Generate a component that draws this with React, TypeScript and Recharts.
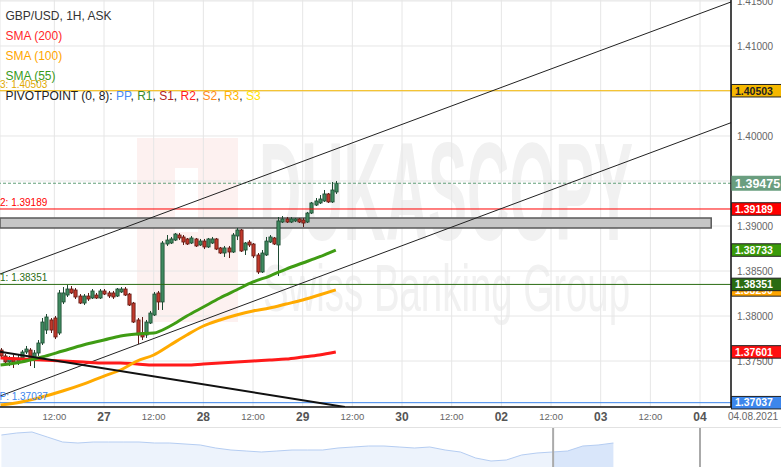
import React from 'react'
import {
  ComposedChart,
  Bar,
  Line,
  XAxis,
  YAxis,
  CartesianGrid,
  ReferenceLine,
  ReferenceArea,
  AreaChart,
  Area,
} from 'recharts'

const FONT = '"Liberation Sans", Arial, sans-serif'

// hourly GBP/USD candles, first one is 25 Jul 23:00 (hour -25 relative to 27 Jul 00:00)
const FIRST_HOUR = -25

const opens = [
  1.37622, 1.37556, 1.37489, 1.37533, 1.37489, 1.37533, 1.376, 1.37622, 1.37511, 1.37589,
  1.377, 1.37844, 1.37956, 1.37978, 1.37811, 1.38156, 1.38233, 1.383, 1.38289, 1.38222,
  1.38144, 1.38222, 1.382, 1.38233, 1.382, 1.38278, 1.38256, 1.38256, 1.38222, 1.38267,
  1.383, 1.38244, 1.38144, 1.37956, 1.37811, 1.37789, 1.37922, 1.38011, 1.38256, 1.38156,
  1.388, 1.38811, 1.38844, 1.389, 1.38878, 1.38856, 1.38811, 1.38856, 1.38789, 1.38833,
  1.38767, 1.38811, 1.38856, 1.38756, 1.387, 1.38756, 1.38711, 1.38889, 1.38956, 1.38733,
  1.38822, 1.388, 1.38678, 1.38489, 1.38678, 1.38822, 1.38867, 1.38789, 1.39044, 1.39078,
  1.39044, 1.39056, 1.39078, 1.39067, 1.39044, 1.39144, 1.39233, 1.39256, 1.39278, 1.39356,
  1.39267, 1.39378,
]
const highs = [
  1.37644, 1.37578, 1.37556, 1.37567, 1.37567, 1.37622, 1.37667, 1.37644, 1.37622, 1.37733,
  1.37978, 1.38022, 1.37978, 1.38, 1.38289, 1.38322, 1.38344, 1.38333, 1.38311, 1.38244,
  1.38244, 1.38256, 1.383, 1.38256, 1.383, 1.383, 1.38278, 1.38278, 1.38311, 1.38322,
  1.38322, 1.38256, 1.38156, 1.37978, 1.37989, 1.37956, 1.38056, 1.38267, 1.38278, 1.38833,
  1.389, 1.38878, 1.38922, 1.38922, 1.389, 1.38867, 1.38889, 1.38867, 1.38856, 1.38856,
  1.38867, 1.38878, 1.38867, 1.38767, 1.38778, 1.38778, 1.38922, 1.38978, 1.38967, 1.38822,
  1.38844, 1.38811, 1.387, 1.38733, 1.38878, 1.389, 1.38878, 1.391, 1.39111, 1.391,
  1.391, 1.39089, 1.39089, 1.39089, 1.39156, 1.39267, 1.39311, 1.39344, 1.394, 1.39367,
  1.39489, 1.395,
]
const lows = [
  1.37533, 1.37467, 1.37444, 1.37422, 1.37456, 1.37511, 1.37578, 1.37444, 1.37422, 1.37556,
  1.37678, 1.378, 1.37811, 1.37744, 1.37789, 1.38133, 1.38211, 1.38244, 1.38189, 1.38133,
  1.38122, 1.38167, 1.38189, 1.38189, 1.38189, 1.38233, 1.382, 1.38189, 1.38211, 1.38256,
  1.38222, 1.38111, 1.37922, 1.37689, 1.37733, 1.37756, 1.37911, 1.38, 1.38067, 1.38067,
  1.38778, 1.388, 1.38833, 1.38844, 1.38789, 1.38789, 1.388, 1.38767, 1.38778, 1.38744,
  1.38756, 1.388, 1.38733, 1.38689, 1.38656, 1.38644, 1.387, 1.38844, 1.38711, 1.38678,
  1.38767, 1.38644, 1.38467, 1.38478, 1.38667, 1.38811, 1.38789, 1.38444, 1.39033, 1.39033,
  1.39033, 1.39044, 1.39033, 1.38989, 1.39033, 1.39133, 1.39222, 1.39244, 1.39267, 1.39256,
  1.39256, 1.39356,
]
const closes = [
  1.37556, 1.37489, 1.37533, 1.37489, 1.37533, 1.376, 1.37633, 1.37511, 1.37589, 1.377,
  1.37933, 1.37989, 1.37844, 1.37767, 1.38256, 1.38256, 1.383, 1.38256, 1.38211, 1.38144,
  1.38222, 1.38189, 1.38278, 1.382, 1.38278, 1.38244, 1.38222, 1.38211, 1.383, 1.383,
  1.38233, 1.38122, 1.37933, 1.37789, 1.37767, 1.37933, 1.38033, 1.38244, 1.38156, 1.38811,
  1.38844, 1.38856, 1.38911, 1.38867, 1.38822, 1.388, 1.38867, 1.38778, 1.38833, 1.38767,
  1.38856, 1.38856, 1.38744, 1.387, 1.38756, 1.38711, 1.389, 1.38956, 1.38722, 1.38811,
  1.38789, 1.38667, 1.38489, 1.387, 1.38833, 1.38878, 1.388, 1.39056, 1.39078, 1.39044,
  1.39078, 1.39078, 1.39044, 1.39033, 1.39144, 1.39256, 1.39278, 1.393, 1.39356, 1.39267,
  1.394, 1.39475,
]

// moving averages, read every few hours
const smaHours = [-25, -20, -15, -10, -5, 0, 4, 8, 12, 16, 20, 24, 28, 32, 36, 40, 44, 48, 52, 56]
const sma55 = [
  1.37456, 1.37489, 1.37544, 1.37611, 1.37678, 1.37733, 1.37778, 1.378, 1.37811, 1.37889,
  1.38, 1.381, 1.382, 1.38289, 1.38378, 1.38444, 1.38522, 1.38589, 1.38656, 1.38733,
]
const sma100 = [
  1.37011, 1.37044, 1.371, 1.37167, 1.37244, 1.37333, 1.374, 1.375, 1.37567, 1.37678,
  1.37789, 1.37889, 1.37956, 1.38011, 1.38056, 1.38089, 1.38133, 1.38178, 1.38233, 1.3829,
]
const sma200 = [
  1.37533, 1.37522, 1.37511, 1.375, 1.37489, 1.37478, 1.37478, 1.37467, 1.37456, 1.37456,
  1.37456, 1.37467, 1.37478, 1.37489, 1.375, 1.37511, 1.37522, 1.37544, 1.37567, 1.37601,
]

// pivot points (0, 8)
const pivotNames = ['R3', 'R2', 'R1', 'PP']
const pivotValues = [1.40503, 1.39189, 1.38351, 1.37037]
const pivotColors = ['#f5b800', '#ff0000', '#2a6b12', '#3c86ec']
const pivotTextColors = ['#e0a800', '#ff0000', '#2a6b12', '#3c86ec']

// axes
const X_MIN = -25.13
const X_MAX = 151.48
const Y_MIN = 1.36989
const Y_MAX = 1.41511
const xTicks = [-12, 0, 12, 24, 36, 48, 60, 72, 84, 96, 108, 120, 132, 144]
const xTickLabels = ['12:00', '27', '12:00', '28', '12:00', '29', '12:00', '30', '12:00', '02', '12:00', '03', '12:00', '04']
const yTicks = [1.375, 1.38, 1.385, 1.39, 1.395, 1.4, 1.405, 1.41, 1.415]

// drawings
const bandHigh = 1.39089
const bandLow = 1.38978
const bandEnd = 146.7
const upperChannel = [[X_MIN, 1.38467], [X_MAX, 1.41489]]
const lowerChannel = [[X_MIN, 1.37111], [X_MAX, 1.40148]]
const trendLine = [[X_MIN, 1.37602], [58.2, 1.36989]]

// navigator (close history, arbitrary level units)
const navDays = [
  0, 0.5, 1, 1.5, 2, 2.5, 3, 3.5, 4, 4.5, 5, 5.5, 6, 6.5, 7, 7.5, 8, 8.5, 9, 9.5, 10,
  10.5, 11, 11.5, 12, 12.5, 13, 13.5, 14, 14.5, 15, 15.5, 16, 16.5, 17, 17.5, 18, 18.5, 19, 19.5, 20,
]
const navLevels = [
  32, 34, 35, 30, 25, 24, 25, 25, 25, 25, 24, 24, 23, 22, 19, 17, 16, 15, 16, 17, 17,
  17, 19, 20, 21, 21, 20, 19, 20, 17, 15, 9, 6, 7, 12, 14, 15, 16, 21, 22, 24,
]
const navTicks = [1, 2, 3, 4, 5, 6, 7, 8, 9, 10, 11, 12, 13, 14, 15, 16, 17, 18, 19, 20, 21, 22, 23, 24, 25]
const navWindow = [18.03, 22.83]

const candles = opens.map((open, i) => ({
  h: FIRST_HOUR + i,
  open,
  high: highs[i],
  low: lows[i],
  close: closes[i],
}))
const toRows = (vals: number[]) => vals.map((v, i) => ({ h: smaHours[i], v }))
const navRows = navLevels.map((v, i) => ({ d: navDays[i], v }))
const lastClose = closes[closes.length - 1]
const last = (a: number[]) => a[a.length - 1]

function Candle(props: any) {
  const { x, y, width, height, payload } = props
  if (x == null || !payload) return null
  const top = Math.min(y, y + height)
  const bot = Math.max(y, y + height)
  const span = payload.high - payload.low
  const k = span > 0 ? (bot - top) / span : 0
  const py = (p: number) => top + (payload.high - p) * k
  const up = payload.close >= payload.open
  const cx = Math.round(x + width / 2) + 0.5
  const yo = py(payload.open)
  const yc = py(payload.close)
  const bt = Math.min(yo, yc)
  const bh = Math.max(Math.abs(yc - yo), 1)
  const fill = up ? '#3f8a60' : '#c0392b'
  const edge = up ? '#1d4a31' : '#5e1a14'
  return (
    <g>
      <line x1={cx} x2={cx} y1={top} y2={bot} stroke={edge} strokeWidth={1} />
      <rect x={cx - 1.6} y={bt} width={3.2} height={bh} fill={fill} stroke={edge} strokeWidth={0.8} />
    </g>
  )
}

function XTick(props: any) {
  const { x, y, payload } = props
  const label = xTickLabels[xTicks.indexOf(payload.value)]
  const isDay = label !== '12:00'
  return (
    <text
      x={x}
      y={y + (isDay ? 14 : 13)}
      textAnchor="middle"
      fontFamily={FONT}
      fontSize={isDay ? 12 : 9.5}
      fontWeight={isDay ? 'bold' : 'normal'}
      fill={isDay ? '#555' : '#666'}
    >
      {label}
    </text>
  )
}

function PriceTag(props: any) {
  const { viewBox, tagText, tagFill, tagInk = '#fff', big, sideText, sideInk } = props
  if (!viewBox) return null
  const right = viewBox.x + viewBox.width
  const cy = viewBox.y
  const h = big ? 15 : 12.5
  return (
    <g>
      {sideText && (
        <text x={viewBox.x - 7.2} y={cy - 3} fontFamily={FONT} fontSize={10} fill={sideInk}>
          {sideText}
        </text>
      )}
      <rect
        x={right + 0.5}
        y={cy - h / 2}
        width={50}
        height={h}
        style={{ fill: tagFill, stroke: big ? 'none' : '#222', strokeWidth: 1, fillOpacity: 1 }}
      />
      <text
        x={right + 4}
        y={cy}
        dy="0.36em"
        fontFamily={FONT}
        fontSize={big ? 12.5 : 10.5}
        fontWeight={big ? 'bold' : 600}
        style={{ fill: tagInk }}
      >
        {tagText}
      </text>
    </g>
  )
}

function Watermark() {
  return (
    <svg width={781} height={427} style={{ position: 'absolute', left: 0, top: 0 }}>
      <rect x={137} y={138} width={101} height={184} fill="#fdf1f0" />
      <rect x={175} y={168} width={23} height={64} fill="#ffffff" />
      <text
        x={259}
        y={240}
        fontFamily={FONT}
        fontWeight="bold"
        fontSize={139}
        textLength={374}
        lengthAdjust="spacingAndGlyphs"
        fill="#f1f1f1"
      >
        DUKASCOPY
      </text>
      <text
        x={263}
        y={311}
        fontFamily={FONT}
        fontSize={66}
        textLength={367}
        lengthAdjust="spacingAndGlyphs"
        fill="#f1f1f1"
      >
        Swiss Banking Group
      </text>
    </svg>
  )
}

function Legend() {
  return (
    <svg width={781} height={467} style={{ position: 'absolute', left: 0, top: 0, pointerEvents: 'none' }}>
      <g fontFamily={FONT} fontSize={12}>
        <text x={5.5} y={19.5} fill="#333">GBP/USD, 1H, ASK</text>
        <text x={5.5} y={39.5} fill="#ff2a2a">SMA (200)</text>
        <text x={5.5} y={59.5} fill="#ffa500">SMA (100)</text>
        <text x={5.5} y={79.5} fill="#3a9a1a">SMA (55)</text>
        <text x={5.5} y={99.5} fill="#222">
          PIVOTPOINT (0, 8):{' '}
          <tspan fill="#4a8af4">PP</tspan>, <tspan fill="#3a8a2a">R1</tspan>,{' '}
          <tspan fill="#b22222">S1</tspan>, <tspan fill="#ff2020">R2</tspan>,{' '}
          <tspan fill="#ff8a1a">S2</tspan>, <tspan fill="#ffb300">R3</tspan>,{' '}
          <tspan fill="#ffe100">S3</tspan>
        </text>
      </g>
      <text x={753} y={420} textAnchor="middle" fontFamily={FONT} fontSize={10} fill="#666">
        04.08.2021
      </text>
    </svg>
  )
}

// same price frame again, transparent, only to draw the price tags above the axis labels
function TagLayer() {
  return (
    <ComposedChart width={781} height={427} data={candles} margin={{ top: 0, right: 0, bottom: 0, left: 0 }}>
      <XAxis
        type="number"
        dataKey="h"
        domain={[X_MIN, X_MAX]}
        allowDataOverflow
        ticks={xTicks}
        height={20}
        tick={() => <g />}
        axisLine={false}
        tickLine={false}
      />
      <YAxis
        orientation="right"
        type="number"
        domain={[Y_MIN, Y_MAX]}
        allowDataOverflow
        ticks={yTicks}
        width={50}
        tick={() => <g />}
        axisLine={false}
        tickLine={false}
      />
      <Line dataKey="close" stroke="none" dot={false} activeDot={false} isAnimationActive={false} />
      <ReferenceLine y={last(sma100)} stroke="none" label={<PriceTag tagText={last(sma100).toFixed(5)} tagFill="#ffa500" />} />
      <ReferenceLine y={last(sma55)} stroke="none" label={<PriceTag tagText={last(sma55).toFixed(5)} tagFill="#3a9a0a" />} />
      <ReferenceLine y={last(sma200)} stroke="none" label={<PriceTag tagText={last(sma200).toFixed(5)} tagFill="#ff1010" />} />
      {pivotValues.map((v, i) => (
        <ReferenceLine
          key={pivotNames[i]}
          y={v}
          stroke="none"
          label={
            <PriceTag
              tagText={v.toFixed(5)}
              tagFill={pivotColors[i]}
              tagInk={i === 0 ? '#222' : '#fff'}
              sideText={`${pivotNames[i]}: ${v.toFixed(5)}`}
              sideInk={pivotTextColors[i]}
            />
          }
        />
      ))}
      <ReferenceLine
        y={lastClose}
        stroke="none"
        label={<PriceTag tagText={lastClose.toFixed(5)} tagFill="#6a9e7f" big />}
      />
    </ComposedChart>
  )
}

export default function App() {
  return (
    <div style={{ position: 'absolute', left: 0, top: 0, width: 781, height: 467, background: '#fff', fontFamily: FONT }}>
      <Watermark />
      <div style={{ position: 'absolute', left: 0, top: 0 }}>
        <ComposedChart width={781} height={427} data={candles} margin={{ top: 0, right: 0, bottom: 0, left: 0 }}>
          <CartesianGrid stroke="#e6e6e6" />
          <XAxis
            type="number"
            dataKey="h"
            domain={[X_MIN, X_MAX]}
            allowDataOverflow
            ticks={xTicks}
            interval={0}
            tick={<XTick />}
            tickLine={false}
            tickSize={0}
            tickMargin={0}
            height={20}
            axisLine={{ stroke: '#111', strokeWidth: 1.5 }}
          />
          <YAxis
            orientation="right"
            type="number"
            domain={[Y_MIN, Y_MAX]}
            allowDataOverflow
            ticks={yTicks}
            interval={0}
            width={50}
            tickLine={false}
            tickSize={0}
            tickMargin={6}
            axisLine={{ stroke: '#111', strokeWidth: 1.5 }}
            tick={{ fontSize: 10, fill: '#666', fontFamily: FONT }}
            tickFormatter={(v: number) => v.toFixed(5)}
          />
          <ReferenceArea
            x1={X_MIN}
            x2={bandEnd}
            y1={bandLow}
            y2={bandHigh}
            fill="#c6c6c6"
            fillOpacity={1}
            stroke="#5a5a5a"
            strokeWidth={1.5}
            ifOverflow="hidden"
          />
          {pivotValues.map((v, i) => (
            <ReferenceLine key={pivotNames[i]} y={v} stroke={pivotColors[i]} strokeWidth={1} />
          ))}
          <ReferenceLine y={lastClose} stroke="#5f9e78" strokeDasharray="3 2" />
          <ReferenceLine
            segment={[{ x: upperChannel[0][0], y: upperChannel[0][1] }, { x: upperChannel[1][0], y: upperChannel[1][1] }]}
            stroke="#222"
            strokeWidth={1}
            ifOverflow="hidden"
          />
          <ReferenceLine
            segment={[{ x: lowerChannel[0][0], y: lowerChannel[0][1] }, { x: lowerChannel[1][0], y: lowerChannel[1][1] }]}
            stroke="#222"
            strokeWidth={1}
            ifOverflow="hidden"
          />
          <Bar
            dataKey={(d: any) => [d.low, d.high]}
            barSize={3}
            shape={(p: any) => <Candle {...p} />}
            isAnimationActive={false}
          />
          <Line data={toRows(sma200)} dataKey="v" type="monotone" stroke="#ff1a1a" strokeWidth={3} dot={false} isAnimationActive={false} />
          <Line data={toRows(sma100)} dataKey="v" type="monotone" stroke="#ffaa00" strokeWidth={3} dot={false} isAnimationActive={false} />
          <Line data={toRows(sma55)} dataKey="v" type="monotone" stroke="#3f9c14" strokeWidth={3} dot={false} isAnimationActive={false} />
          <ReferenceLine
            segment={[{ x: trendLine[0][0], y: trendLine[0][1] }, { x: trendLine[1][0], y: trendLine[1][1] }]}
            stroke="#111"
            strokeWidth={2}
            ifOverflow="hidden"
          />
        </ComposedChart>
      </div>
      <div style={{ position: 'absolute', left: 0, top: 0 }}>
        <TagLayer />
      </div>
      <div style={{ position: 'absolute', left: 0, top: 427, width: 781, height: 40, borderTop: '1px solid #e2e2e2', boxSizing: 'border-box' }}>
        <AreaChart width={781} height={39} data={navRows} margin={{ top: 0, right: 0, bottom: 0, left: 0 }}>
          <defs>
            <linearGradient id="navFill" gradientUnits="userSpaceOnUse" x1="0" y1="0" x2="781" y2="0">
              <stop offset="0.708" stopColor="#edf3fc" />
              <stop offset="0.708" stopColor="#d9e6fa" />
            </linearGradient>
          </defs>
          <XAxis
            type="number"
            dataKey="d"
            domain={[-0.046, 25.477]}
            allowDataOverflow
            ticks={navTicks}
            interval={0}
            mirror
            tick={false}
            tickSize={8}
            axisLine={false}
            tickLine={{ stroke: '#d0d0d0' }}
          />
          <YAxis hide domain={[0, 39]} allowDataOverflow />
          <Area
            dataKey="v"
            type="linear"
            stroke="#b5cdf2"
            strokeWidth={1}
            fill="url(#navFill)"
            fillOpacity={1}
            isAnimationActive={false}
          />
          <ReferenceLine x={navWindow[0]} stroke="#aaaaaa" strokeWidth={2} />
          <ReferenceLine x={navWindow[1]} stroke="#aaaaaa" strokeWidth={2} />
        </AreaChart>
      </div>
      <Legend />
    </div>
  )
}
